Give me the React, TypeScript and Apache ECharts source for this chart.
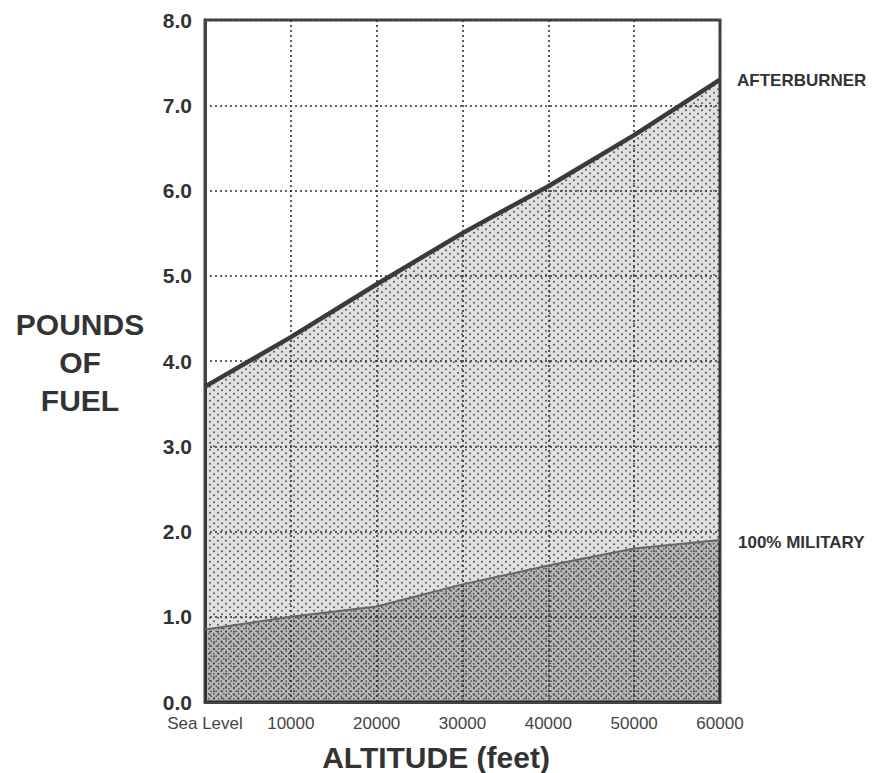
import React, { useEffect, useRef } from "react";
import * as echarts from "echarts";

const altitudes = [0, 10000, 20000, 30000, 40000, 50000, 60000];
const afterburner = [3.7, 4.28, 4.9, 5.5, 6.05, 6.65, 7.3];
const military = [0.85, 1.0, 1.12, 1.38, 1.6, 1.8, 1.9];
const yTicks = [0, 1, 2, 3, 4, 5, 6, 7, 8];

function makeTile(w: number, h: number, bg: string, dot: string, r: number, pts: number[][]) {
  const c = document.createElement("canvas");
  c.width = w;
  c.height = h;
  const ctx = c.getContext("2d")!;
  ctx.fillStyle = bg;
  ctx.fillRect(0, 0, w, h);
  ctx.fillStyle = dot;
  pts.forEach(([x, y]) => {
    ctx.beginPath();
    ctx.arc(x, y, r, 0, Math.PI * 2);
    ctx.fill();
  });
  return c;
}

export default function App() {
  const ref = useRef<HTMLDivElement>(null);
  useEffect(() => {
    if (!ref.current) return;
    const chart = echarts.init(ref.current, null, { renderer: "svg" });
    const upper = makeTile(8, 7, "rgba(0,0,0,0.12)", "rgba(50,50,50,0.8)", 1.0, [
      [2, 1.75],
      [6, 5.25],
    ]);
    const lower = makeTile(5, 5, "rgba(0,0,0,0.17)", "rgba(50,50,50,0.7)", 0.9, [
      [1.25, 1.25],
      [3.75, 3.75],
    ]);
    const font = "'Liberation Sans', Arial, sans-serif";
    chart.setOption({
      animation: false,
      grid: {
        left: 205,
        top: 20,
        right: 156,
        bottom: 71,
        show: true,
        borderColor: "#444",
        borderWidth: 3,
        backgroundColor: "transparent",
      },
      xAxis: {
        type: "value",
        min: 0,
        max: 60000,
        interval: 10000,
        axisLine: { show: true, lineStyle: { color: "#444", width: 3 } },
        axisTick: { show: false },
        splitLine: { show: true, lineStyle: { color: "#333", width: 1.6, type: [2, 3] } },
        axisLabel: {
          color: "#444",
          fontFamily: font,
          fontSize: 17,
          margin: 13,
          formatter: (v: number) => (v === 0 ? "Sea Level" : String(v)),
        },
      },
      yAxis: {
        type: "value",
        min: 0,
        max: 8,
        interval: 1,
        axisLine: { show: true, lineStyle: { color: "#444", width: 3 } },
        axisTick: { show: false },
        splitLine: { show: true, lineStyle: { color: "#333", width: 1.6, type: [2, 3] } },
        axisLabel: {
          color: "#333",
          fontFamily: font,
          fontSize: 21,
          fontWeight: "bold",
          margin: 13,
          formatter: (v: number) => (yTicks.includes(v) ? v.toFixed(1) : ""),
        },
      },
      series: [
        {
          name: "AFTERBURNER",
          type: "line",
          data: altitudes.map((a, i) => [a, afterburner[i]]),
          symbol: "none",
          z: 2,
          lineStyle: { color: "#3a3a3a", width: 4.5 },
          areaStyle: { color: { image: upper, repeat: "repeat", imageWidth: 8, imageHeight: 7 } as any, opacity: 1 },
        },
        {
          name: "100% MILITARY",
          type: "line",
          data: altitudes.map((a, i) => [a, military[i]]),
          symbol: "none",
          z: 3,
          lineStyle: { color: "#666", width: 2 },
          areaStyle: { color: { image: lower, repeat: "repeat", imageWidth: 5, imageHeight: 5 } as any, opacity: 1 },
        },
      ],
      graphic: [
        {
          type: "text",
          x: 737,
          y: 80,
          style: { text: "AFTERBURNER", fill: "#333", font: `bold 17px ${font}`, verticalAlign: "middle" },
        },
        {
          type: "text",
          x: 738,
          y: 542,
          style: { text: "100% MILITARY", fill: "#333", font: `bold 17px ${font}`, verticalAlign: "middle" },
        },
        {
          type: "text",
          x: 80,
          y: 362,
          style: {
            text: "POUNDS\nOF\nFUEL",
            fill: "#333",
            font: `bold 30px ${font}`,
            align: "center",
            verticalAlign: "middle",
            lineHeight: 38,
          },
        },
        {
          type: "text",
          x: 436,
          y: 757,
          style: {
            text: "ALTITUDE (feet)",
            fill: "#333",
            font: `bold 30px ${font}`,
            align: "center",
            verticalAlign: "middle",
          },
        },
      ],
    });
    return () => chart.dispose();
  }, []);
  return (
    <div
      ref={ref}
      style={{ position: "absolute", left: 0, top: 0, width: 876, height: 773 }}
    />
  );
}
